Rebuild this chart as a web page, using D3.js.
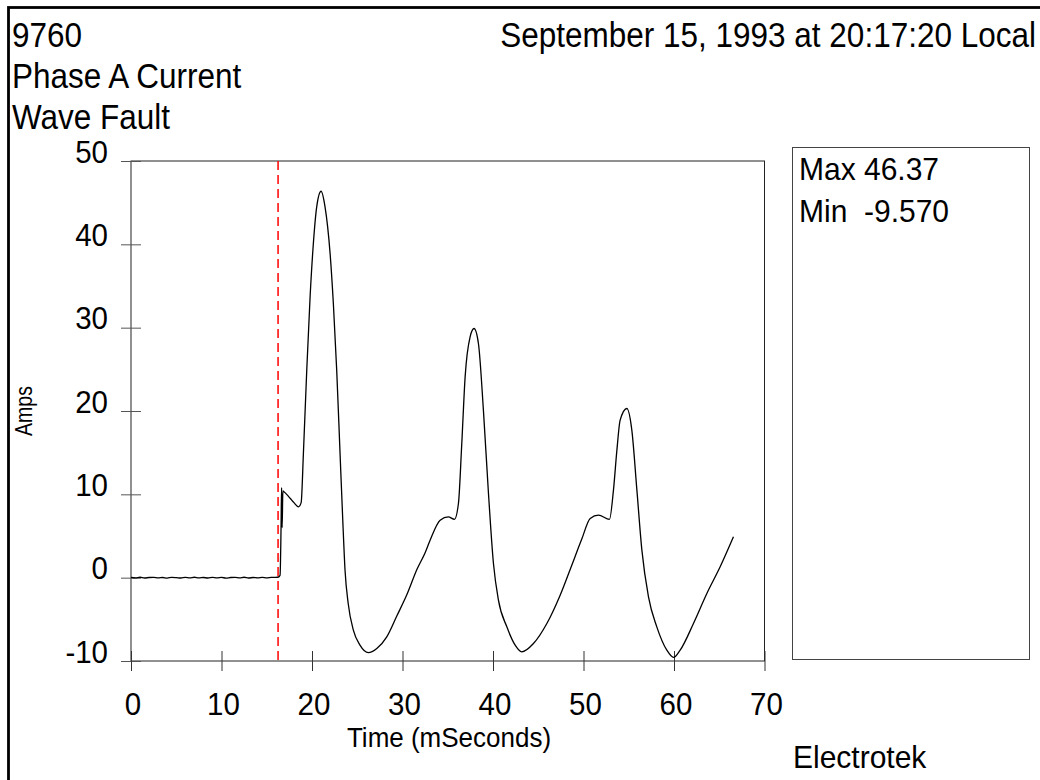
<!DOCTYPE html>
<html>
<head>
<meta charset="utf-8">
<script src="https://cdn.jsdelivr.net/npm/d3@7"></script>
<style>
  body { margin: 0; background: #fff; }
  svg { display: block; }
  text { font-family: "Liberation Sans", Arial, sans-serif; fill: #000; white-space: pre; }
</style>
</head>
<body>
<svg width="1040" height="780"></svg>
<script>
// header / footer text
var headerLines = ["9760", "Phase A Current", "Wave Fault"];
var dateText = "September 15, 1993 at 20:17:20 Local";
var statLines = ["Max 46.37", "Min  -9.570"];
var footerText = "Electrotek";

// axes
var xTicks = [0, 10, 20, 30, 40, 50, 60, 70];
var yTicks = [-10, 0, 10, 20, 30, 40, 50];
var triggerMs = 16.25;

// waveform (time in ms, current in amps)
var timeMs = [0, 0.5, 1, 1.5, 2, 2.5, 3, 3.5, 4, 4.5, 5, 5.5, 6, 6.5, 7, 7.5,
  8, 8.5, 9, 9.5, 10, 10.5, 11, 11.5, 12, 12.5, 13, 13.5, 14, 14.5, 15, 15.5, 16, 16.3,
  16.47, 16.58, 16.64, 16.7, 16.78, 16.9, 17.2, 17.6, 18.0, 18.5, 18.8,
  19.05, 19.42, 19.79, 20.15, 20.52, 21.0, 21.44, 22.0, 22.36, 22.73, 23.1, 23.4,
  23.65, 24.0, 24.57, 25.3, 26.23, 27.16, 28.26, 29.37, 30.5, 31.6, 32.5, 33.05,
  34.16, 35.07, 35.74, 36.18, 36.55, 36.92, 37.47, 37.91, 38.39, 38.94, 39.5,
  40.05, 40.6, 41.53, 42.45, 43.18, 44.47, 45.95, 47.42, 48.6, 49.8, 50.74,
  51.66, 52.87, 53.31, 53.69, 54.05, 54.79, 55.34, 55.9, 56.45, 57.18, 58.1,
  59.21, 59.95, 60.68, 62.15, 63.63, 65.1, 66.57];
var amps = [0.03, -0.03, 0.05, -0.04, 0.02, 0.04, -0.03, 0.02, -0.05, 0.04, 0.01, -0.04, 0.03, -0.02, 0.05, -0.03,
  0.02, -0.04, 0.04, -0.02, 0.03, -0.05, 0.02, 0.04, -0.03, 0.05, -0.04, 0.02, -0.02, 0.04, -0.03, 0.03, 0.04, 0.08,
  0.3, 6.0, 10.8, 6.0, 10.4, 10.3, 10.0, 9.5, 9.0, 8.5, 9.0,
  14.9, 24.9, 33.7, 40.1, 44.5, 46.37, 44.5, 38.9, 32.9, 24.9, 14.9, 6.9,
  0.9, -3.1, -6.3, -8.1, -9.0, -8.5, -7.1, -4.6, -2.0, 1.0, 3.0, 4.5,
  6.9, 7.3, 7.0, 8.9, 16.1, 24.1, 28.9, 29.9, 28.1, 20.1, 10.1,
  1.7, -2.7, -5.9, -8.1, -8.9, -7.9, -5.5, -2.1, 1.2, 4.6, 7.1,
  7.5, 7.0, 10.5, 15.3, 18.9, 20.3, 17.7, 10.5, 3.3, -2.3, -5.9,
  -8.7, -9.57, -8.7, -5.5, -1.9, 1.3, 4.9];

var data = timeMs.map(function(t, i) { return {t: t, a: amps[i]}; });

var svg = d3.select("svg");

var x = d3.scaleLinear().domain([0, 70]).range([131, 764.5]),
    y = d3.scaleLinear().domain([-10, 50]).range([661, 161]);

// stretched text helper (the original font is drawn a bit tall)
function label(txt, px, py, size, anchor, sy) {
  return svg.append("text")
    .attr("transform", "translate(" + px + "," + py + ") scale(1," + sy + ")")
    .attr("font-size", size)
    .attr("text-anchor", anchor || "start")
    .text(txt);
}

// outer border (right and bottom fall off the page)
svg.append("rect")
  .attr("x", 8.5).attr("y", 7.5)
  .attr("width", 1100).attr("height", 900)
  .attr("fill", "none").attr("stroke", "#000").attr("stroke-width", 2.8);

// header
headerLines.forEach(function(s, i) {
  label(s, 12, 47 + i * 41, 31.5, "start", 1.1);
});
label(dateText, 1036, 47, 31.5, "end", 1.1);

// plot frame
svg.append("rect")
  .attr("x", x(0)).attr("y", y(50))
  .attr("width", x(70) - x(0)).attr("height", y(-10) - y(50))
  .attr("fill", "none").attr("stroke", "#222").attr("stroke-width", 1);

// y axis, ticks cross the axis line
var gy = svg.append("g")
  .attr("transform", "translate(" + x(0) + ",0)")
  .call(d3.axisLeft(y).tickValues(yTicks).tickSize(10).tickFormat(""));
gy.select(".domain").remove();
gy.selectAll(".tick line").attr("x1", 10).attr("stroke", "#555");

// x axis
var gx = svg.append("g")
  .attr("transform", "translate(0," + y(-10) + ")")
  .call(d3.axisBottom(x).tickValues(xTicks).tickSize(10).tickFormat(""));
gx.select(".domain").remove();
gx.selectAll(".tick line").attr("y1", -10).attr("stroke", "#333");

// tick labels
yTicks.forEach(function(v) {
  label(String(v), 108, y(v) + 1.5, 29.5, "end", 1.08);
});
xTicks.forEach(function(v) {
  label(String(v), x(v) + 2, 715, 29.5, "middle", 1.08);
});

// axis titles
label("Time (mSeconds)", 449, 747, 26, "middle", 1.06);
svg.append("text")
  .attr("transform", "translate(32,411) rotate(-90) scale(1,1.2)")
  .attr("font-size", 19.5)
  .attr("text-anchor", "middle")
  .text("Amps");

// trigger marker
svg.append("line")
  .attr("x1", x(triggerMs)).attr("x2", x(triggerMs))
  .attr("y1", y(50)).attr("y2", y(-10))
  .attr("stroke", "#ff0000").attr("stroke-width", 1.5)
  .attr("stroke-dasharray", "9,5");

// waveform
var line = d3.line()
  .x(function(d) { return x(d.t); })
  .y(function(d) { return y(d.a); })
  .curve(d3.curveMonotoneX);

svg.append("path")
  .datum(data)
  .attr("fill", "none")
  .attr("stroke", "#000")
  .attr("stroke-width", 1.3)
  .attr("d", line);

// stats box
svg.append("rect")
  .attr("x", 792.5).attr("y", 147.5)
  .attr("width", 237).attr("height", 512)
  .attr("fill", "none").attr("stroke", "#444").attr("stroke-width", 1);
statLines.forEach(function(s, i) {
  label(s, 799, 180 + i * 42, 30, "start", 1.05);
});

label(footerText, 793, 768, 30, "start", 1.05);
</script>
</body>
</html>
